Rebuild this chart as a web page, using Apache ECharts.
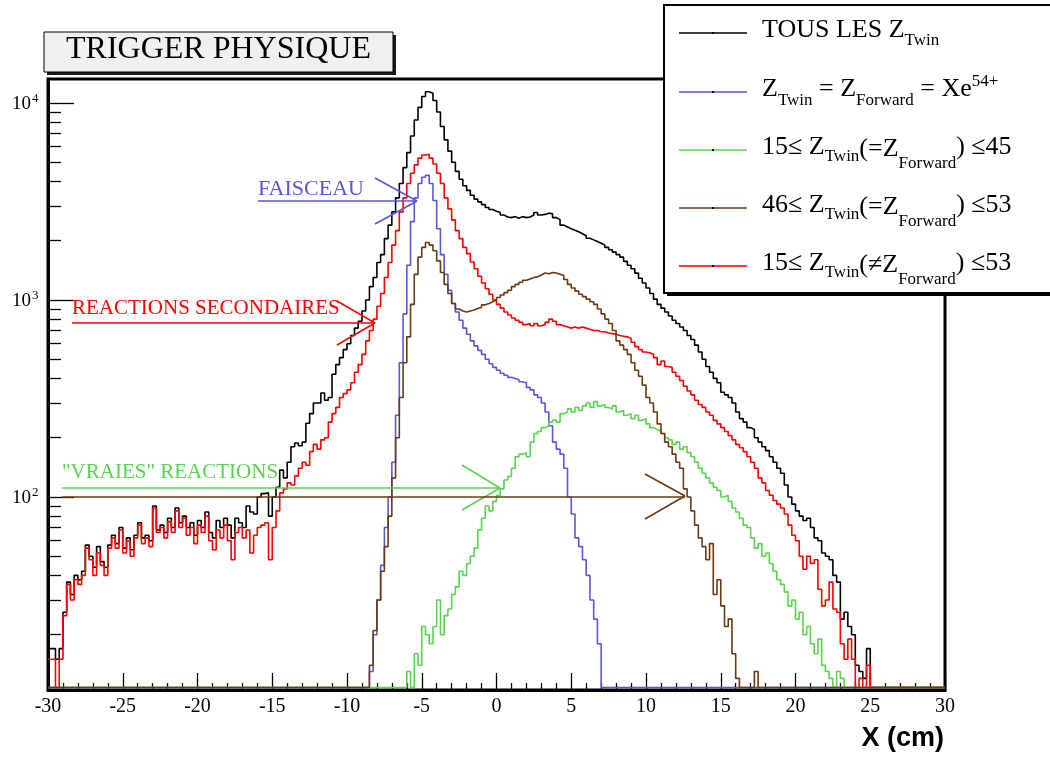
<!DOCTYPE html>
<html><head><meta charset="utf-8">
<script src="https://cdn.jsdelivr.net/npm/echarts@6/dist/echarts.min.js"></script>
<style>html,body{margin:0;padding:0;background:#fff}#c{width:1050px;height:757px}</style>
</head><body><div id="c"></div>
<script>
// ---------------- DATA ----------------
const X_START = -30, BIN = 0.25, NBINS = 240;
const Y_MIN = 10.48, Y_MAX = 13240, ZERO_LEVEL = 10.79;
const xTickLabels = [-30,-25,-20,-15,-10,-5,0,5,10,15,20,25,30];
const yMajor = [100, 1000, 10000];
const yMinor = [20,30,40,50,60,70,80,90,200,300,400,500,600,700,800,900,2000,3000,4000,5000,6000,7000,8000,9000];

// counts per 0.25 cm bin, starting at the given x
const totalStart = -30;
const totalCounts = [
 17,17,15,17,26,37,32,40,38,42, 57,50,44,56,47,44,57,64,58,70,
 55,62,54,64,74,62,64,60,90,68, 72,66,78,70,88,74,80,70,74,64,
 76,70,84,66,62,76,70,78,72,62, 78,74,70,90,84,82,100,104,105,80,
 100,112,137,125,150,180,188,182,190,237, 265,300,300,337,310,320,420,470,510,560,
 600,660,720,780,880,1000,1170,1300,1550,1700, 2050,2400,2800,3300,3900,4700,5600,6800,8200,9500,
 10800,11400,11200,10300,9000,7600,6500,5700,5000,4500, 4100,3800,3600,3400,3250,3150,3050,2950,2880,2820,
 2780,2700,2640,2620,2650,2600,2650,2620,2640,2700, 2780,2700,2720,2760,2740,2620,2560,2400,2350,2300,
 2260,2220,2170,2120,2060,2020,1980,1940,1900,1850, 1800,1750,1700,1650,1570,1500,1440,1370,1290,1220,
 1150,1080,1010,950,910,870,830,790,760,730, 700,660,630,590,545,500,460,430,400,380,
 340,330,320,300,270,250,240,225,220,200, 190,180,172,160,150,140,132,115,100,92,
 85,80,76,78,70,62,60,52,50,48, 40,37,24,26,22,20,14,13,12,17
];
const beamStart = -8.5;
const beamCounts = [
 13,20,30,45,
 70,100,150,260,480,850,1500,2500,3300,3900,
 4200,4300,3900,3200,2300,1700,1350,1120,960,870,
 790,720,670,620,585,555,530,500,475,455,
 440,425,415,405,400,395,385,380,360,350,
 330,320,300,270,230,190,175,165,140,100,
 82,62,56,48,40,30,24,18
];
const lightStart = -6.0;
const lightCounts = [
 13,0,16,14,
 22,20,18,22,30,20,25,27,32,35,
 42,40,46,50,55,68,78,90,85,95,
 102,110,122,127,140,160,165,168,160,190,
 210,215,225,230,240,246,240,265,270,280,
 270,285,275,290,300,285,305,290,295,285,
 280,290,270,275,260,265,250,260,245,250,
 235,225,220,215,210,200,195,185,190,175,
 180,168,160,150,140,132,125,118,112,108,
 100,102,95,88,84,78,72,70,62,55,
 58,50,52,46,42,38,36,33,28,30,
 24,26,20,22,18,16,19,14,13,12,
 0,13,12
];
const heavyStart = -8.5;
const heavyCounts = [
 14,21,30,42,
 56,80,125,200,320,480,650,950,1350,1650,
 1850,1960,1900,1780,1580,1380,1200,1080,960,900,
 880,870,880,890,905,920,945,960,980,1000,
 1030,1060,1090,1120,1170,1200,1230,1260,1280,1300,
 1310,1340,1370,1360,1380,1370,1350,1330,1270,1200,
 1150,1110,1070,1040,1010,980,950,900,850,800,
 760,700,620,590,560,530,480,440,410,370,
 320,300,270,235,210,190,180,165,150,140,
 110,100,85,72,62,56,48,58,32,38,
 28,22,24,16,12,0,0,0,0,13
];
const mixedStart = -30;
const mixedCounts = [
 15,15,0,15,25,36,30,38,36,40, 55,48,40,52,45,40,55,62,55,68,
 52,60,50,62,72,58,62,56,88,66, 70,62,75,66,85,70,78,64,70,58,
 72,66,80,60,54,68,62,72,60,48, 66,70,62,68,52,64,70,72,74,48,
 70,85,105,110,118,115,128,140,150,145, 170,185,175,195,200,240,265,285,320,335,
 350,380,430,470,530,620,700,800,930,1080, 1300,1550,1900,2250,2800,3300,3900,4400,4850,5250,
 5450,5500,5250,4900,4400,3900,3300,2900,2550,2250, 2050,1850,1720,1560,1440,1320,1220,1140,1070,1000,
 950,910,870,840,810,790,770,750,760,740, 760,740,750,770,800,780,750,740,730,720,
 730,720,730,720,710,700,700,690,690,680, 675,670,660,655,650,640,610,580,560,545,
 540,530,510,470,490,460,455,430,410,390, 365,345,330,310,295,285,270,260,245,235,
 225,215,205,195,185,178,170,160,150,140, 125,118,108,102,96,92,88,82,72,64,
 60,50,43,50,46,48,34,28,30,37, 27,26,18,15,19,15,0,12,0,14
];

// drawing order: black, red, blue, green, brown (as in the original)
const seriesDefs = [
  {name:'TOUS LES Z', color:'#000000', start: totalStart, counts: totalCounts},
  {name:'15-53 diff', color:'#ff0000', start: mixedStart, counts: mixedCounts},
  {name:'Xe54+', color:'#5a56dc', start: beamStart, counts: beamCounts},
  {name:'15-45', color:'#58d44e', start: lightStart, counts: lightCounts},
  {name:'46-53', color:'#6b3a10', start: heavyStart, counts: heavyCounts}
];

// --------------- BUILD ---------------
function expand(start, counts) {
  const full = new Array(NBINS).fill(0);
  const off = Math.round((start - X_START) / BIN);
  counts.forEach((v, i) => { if (off + i >= 0 && off + i < NBINS) full[off + i] = v; });
  return full;
}
function stepData(full) {
  const pts = [];
  for (let i = 0; i < NBINS; i++) pts.push([X_START + i * BIN, full[i] > 0 ? full[i] : ZERO_LEVEL]);
  pts.push([X_START + NBINS * BIN, full[NBINS - 1] > 0 ? full[NBINS - 1] : ZERO_LEVEL]);
  return pts;
}

const SERIF = '"Liberation Serif", "Times New Roman", serif';
const SANS = '"Liberation Sans", Arial, sans-serif';

const chart = echarts.init(document.getElementById('c'), null, {renderer: 'canvas'});
const tickStyle = {color: '#000', width: 1.3};
const option = {
  animation: false,
  backgroundColor: '#ffffff',
  grid: {left: 48, right: 105, top: 79, bottom: 67, show: true, borderColor: '#000', borderWidth: 3, backgroundColor: 'transparent'},
  xAxis: {
    type: 'value', min: -30, max: 30, interval: 5,
    axisLine: {show: true, onZero: false, lineStyle: {color: '#000', width: 3}},
    axisTick: {show: true, inside: true, length: 17, customValues: xTickLabels, lineStyle: tickStyle},
    minorTick: {show: true, splitNumber: 5, length: 7, lineStyle: tickStyle},
    splitLine: {show: false},
    axisLabel: {fontFamily: SERIF, fontSize: 20, color: '#000', margin: 7,
      customValues: xTickLabels}
  },
  yAxis: [
    {type: 'log', logBase: 10, min: Y_MIN, max: Y_MAX, position: 'left', offset: 0,
     axisLine: {show: true, onZero: false, lineStyle: {color: '#000', width: 3}},
     axisTick: {show: true, inside: true, length: 26, customValues: yMajor, lineStyle: tickStyle},
     axisLabel: {show: false}, splitLine: {show: false}},
    {type: 'log', logBase: 10, min: Y_MIN, max: Y_MAX, position: 'left', offset: 0,
     axisLine: {show: false, onZero: false},
     axisTick: {show: true, inside: true, length: 13, customValues: yMinor, lineStyle: tickStyle},
     axisLabel: {show: false}, splitLine: {show: false}}
  ],
  series: seriesDefs.map(d => ({
    type: 'line', name: d.name, data: stepData(expand(d.start, d.counts)),
    step: 'end', symbol: 'none', silent: true, clip: true, yAxisIndex: 0,
    lineStyle: {color: d.color, width: 1.6}
  }))
};
chart.setOption(option);

// ---------- text helpers ----------
const mctx = document.createElement('canvas').getContext('2d');
function mw(t, size, fam, weight) { mctx.font = (weight || 'normal') + ' ' + size + 'px ' + (fam || SERIF); return mctx.measureText(t).width; }
function txt(t, x, baseline, size, color, align, fam, weight) {
  const k = (fam === SANS) ? 0.346 : 0.338;
  return {type: 'text', silent: true, z: 100,
    style: {text: t, x: x, y: baseline - k * size, fill: color,
      font: (weight || 'normal') + ' ' + size + 'px ' + (fam || SERIF),
      textAlign: align || 'left', align: align || 'left', textVerticalAlign: 'middle', verticalAlign: 'middle'}};
}
function run(x0, baseline, segs, color) {
  const els = []; let x = x0;
  segs.forEach(([t, size, dy]) => { els.push(txt(t, x, baseline + dy, size, color)); x += mw(t, size); });
  return els;
}
function line(x1, y1, x2, y2, color, w) {
  return {type: 'line', silent: true, z: 100, shape: {x1, y1, x2, y2}, style: {stroke: color, lineWidth: w || 1.5}};
}
function rect(x, y, w, h, fill, stroke, lw, z) {
  return {type: 'rect', silent: true, z: z || 110, shape: {x, y, width: w, height: h}, style: {fill, stroke: stroke || null, lineWidth: lw || 0}};
}

const g = [];
// y-axis labels 10^n
yMajor.forEach(v => {
  const py = chart.convertToPixel({yAxisIndex: 0}, v);
  const n = Math.round(Math.log10(v));
  g.push(txt('10', 31, py + 7.5, 19, '#000', 'right'));
  g.push(txt(String(n), 32, py - 0.5, 13, '#000', 'left'));
});
// x-axis title
g.push(txt('X (cm)', 944, 748, 27, '#000', 'right', SANS, 'bold'));

// title box
g.push(rect(47, 35, 349, 40, '#1a1a1a', null, 0, 120));
g.push(rect(44, 32, 349, 40, '#f0f0f0', '#000', 1, 121));
const titleEl = txt('TRIGGER PHYSIQUE', 218.5, 60, 32, '#000', 'center'); titleEl.z = 122; g.push(titleEl);

// annotations
const BLUE = '#5a56dc', GREEN = '#58d44e', BROWN = '#6b3a10', RED = '#ff0000';
g.push(txt('FAISCEAU', 258, 197, 22, BLUE));
g.push(line(258, 201, 417, 201, BLUE), line(375, 178, 417, 201, BLUE), line(375, 224, 417, 201, BLUE));
g.push(txt('REACTIONS SECONDAIRES', 72, 316, 21, RED));
g.push(line(72, 323, 375, 323, RED), line(337, 301, 375, 323, RED), line(337, 345, 375, 323, RED));
g.push(txt('"VRAIES" REACTIONS', 62, 480, 21, GREEN));
g.push(line(62, 488, 500, 488, GREEN), line(462, 465, 500, 488, GREEN), line(462, 510, 500, 488, GREEN));
g.push(line(62, 497, 685, 497, BROWN), line(645, 474, 685, 496, BROWN), line(645, 519, 685, 496, BROWN));

// legend box
g.push(rect(667, 8, 400, 288, '#000', null, 0, 130));
g.push(rect(664, 5, 400, 288, '#fff', '#000', 2, 131));
const legendRows = [
  {y: 33, color: '#000000', segs: [['TOUS LES Z', 26, 0], ['Twin', 17, 7]]},
  {y: 92, color: BLUE, segs: [['Z', 26, 0], ['Twin', 17, 8], [' = Z', 26, 0], ['Forward', 17, 8], [' = Xe', 26, 0], ['54+', 17, -11]]},
  {y: 150, color: GREEN, segs: [['15\u2264 Z', 26, 0], ['Twin', 17, 6], ['(=Z', 26, 2], ['Forward', 17, 13], [') \u226445', 26, 0]]},
  {y: 208, color: BROWN, segs: [['46\u2264 Z', 26, 0], ['Twin', 17, 6], ['(=Z', 26, 2], ['Forward', 17, 13], [') \u226453', 26, 0]]},
  {y: 266, color: RED, segs: [['15\u2264 Z', 26, 0], ['Twin', 17, 6], ['(\u2260Z', 26, 2], ['Forward', 17, 13], [') \u226453', 26, 0]]}
];
legendRows.forEach(r => {
  const l = line(679, r.y, 747, r.y, r.color, 1.6); l.z = 140; g.push(l);
  g.push({type: 'rect', silent: true, z: 141, shape: {x: 712, y: r.y - 1, width: 2, height: 2}, style: {fill: '#000'}});
  run(762, r.y + 6, r.segs, '#000').forEach(e => { e.z = 140; g.push(e); });
});

chart.setOption({graphic: g});
</script>
</body></html>
